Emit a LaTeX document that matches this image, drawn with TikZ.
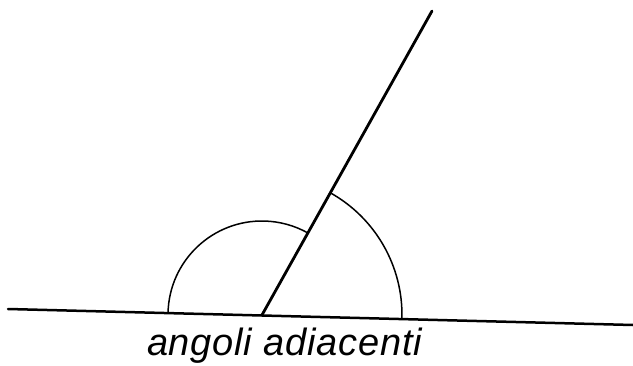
\documentclass[tikz,border=0pt]{standalone}
\usepackage{fontspec}
\newfontfamily\labelfont[LetterSpace=2]{Liberation Sans}
\begin{document}
\begin{tikzpicture}[x=1pt,y=1pt,
  baseline/.style={line width=2.5pt, line cap=round},
  rayline/.style={line width=2.8pt, line cap=round},
  anglearc/.style={line width=1.5pt},
  caption/.style={font=\labelfont\itshape\fontsize{38}{38}\selectfont, anchor=base, inner sep=0pt}]
\useasboundingbox (0,0) rectangle (633,365);
\coordinate (L) at (8,56);
\coordinate (Rt) at (633,40);
\coordinate (V) at (262,50);
\coordinate (T) at (432,354);
\draw[baseline] (L) -- (Rt);
\draw[rayline] (V) -- (T);
\draw[anglearc] ([shift={(178.5:94)}]V) arc[start angle=178.5, end angle=60.8, radius=94];
\draw[anglearc] ([shift={(-1.47:140)}]V) arc[start angle=-1.47, end angle=60.8, radius=140];
\node[caption] (cap) at (284.5,10) {angoli adiacenti};
\end{tikzpicture}
\end{document}
